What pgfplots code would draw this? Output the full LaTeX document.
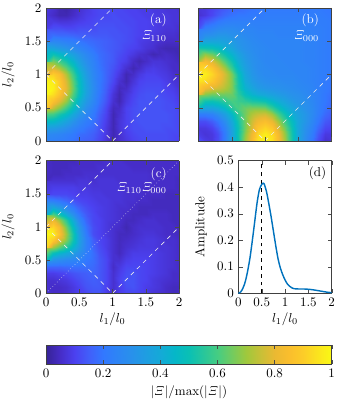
\documentclass[border=0pt]{standalone}
\usepackage{pgfplots}
\pgfplotsset{compat=1.18}
\pgfplotsset{
  colormap={refmap}{
    rgb255=(55,35,150) rgb255=(70,45,200) rgb255=(75,65,240) rgb255=(65,95,250)
    rgb255=(50,120,255) rgb255=(45,133,245) rgb255=(40,145,235) rgb255=(30,158,225)
    rgb255=(20,170,215) rgb255=(5,183,200) rgb255=(10,192,180) rgb255=(40,198,155)
    rgb255=(70,205,130) rgb255=(115,203,95) rgb255=(160,200,60) rgb255=(200,192,55)
    rgb255=(235,185,50) rgb255=(250,190,45) rgb255=(252,205,40) rgb255=(251,228,30)
    rgb255=(250,250,20)},
  colormap name=refmap,
  heat/.style={
    scale only axis, width=102.4pt, height=102.3pt,
    view={0}{90}, xmin=0,xmax=2,ymin=0,ymax=2,
    point meta min=0, point meta max=1,
    xtick={0,0.5,1,1.5,2}, ytick={0,0.5,1,1.5,2},
    tick style={black!70}, major tick length=3.2pt,
    axis on top, axis line style={black!75},
    xlabel style={yshift=2pt}, ylabel style={yshift=1pt},
  },
  grid21/.style={surf, shader=interp, mesh/cols=21, mesh/ordering=x varies},
  table/tbl/.style={row sep=\\, header=false,
    x expr={mod(\coordindex,21)*0.1},
    y expr={floor(\coordindex/21)*0.1},
    z expr={\thisrowno{0}/100}},
  guide/.style={white!92!black, line width=0.5pt, dash pattern=on 3.3pt off 3.3pt},
}
\begin{document}
\begin{tikzpicture}
\path[use as bounding box] (0,0) rectangle (260.7pt,309.9pt);
% (a)
\begin{axis}[heat, at={(35.4pt,201.5pt)}, anchor=south west,
  xticklabels={}, ylabel={$l_2/l_0$}]
\addplot3[grid21] table[tbl]{
24\\23\\22\\21\\19\\17\\15\\14\\11\\7\\3\\6\\8\\10\\11\\12\\12\\12\\12\\11\\10\\
27\\26\\25\\23\\21\\18\\17\\15\\12\\8\\3\\6\\9\\11\\12\\12\\12\\12\\12\\11\\11\\
35\\34\\32\\29\\25\\22\\19\\17\\13\\8\\3\\7\\10\\12\\12\\13\\13\\13\\12\\12\\11\\
47\\46\\42\\37\\31\\26\\22\\19\\14\\9\\3\\7\\10\\12\\13\\13\\13\\13\\13\\12\\11\\
61\\59\\53\\47\\39\\32\\26\\21\\15\\10\\3\\6\\10\\12\\13\\13\\13\\13\\13\\12\\11\\
76\\74\\67\\58\\47\\38\\29\\23\\17\\11\\4\\5\\10\\12\\13\\13\\13\\13\\12\\12\\10\\
89\\86\\79\\69\\55\\43\\33\\26\\19\\13\\6\\3\\8\\11\\13\\13\\13\\13\\12\\11\\9\\
97\\94\\87\\76\\61\\48\\36\\27\\20\\14\\7\\3\\7\\10\\12\\13\\13\\12\\11\\10\\8\\
100\\98\\90\\79\\64\\49\\37\\28\\21\\15\\9\\4\\5\\9\\11\\12\\12\\12\\10\\9\\7\\
99\\97\\89\\77\\62\\48\\36\\27\\21\\16\\11\\6\\3\\7\\10\\11\\11\\11\\9\\7\\6\\
92\\90\\85\\72\\58\\45\\34\\26\\21\\16\\12\\8\\3\\5\\8\\10\\10\\9\\8\\6\\5\\
81\\78\\72\\63\\52\\41\\32\\25\\20\\16\\13\\10\\6\\3\\5\\8\\9\\8\\7\\5\\5\\
67\\65\\59\\52\\44\\36\\29\\24\\19\\16\\14\\11\\9\\5\\3\\5\\7\\7\\6\\5\\4\\
52\\50\\46\\41\\36\\31\\26\\22\\18\\16\\14\\12\\10\\8\\6\\5\\3\\4\\5\\4\\3\\
38\\37\\34\\31\\28\\25\\22\\19\\17\\15\\14\\13\\11\\10\\9\\7\\6\\4\\3\\3\\3\\
27\\26\\25\\23\\22\\20\\18\\17\\16\\15\\14\\13\\12\\11\\9\\8\\7\\6\\5\\5\\5\\
18\\18\\17\\17\\16\\15\\15\\14\\14\\14\\13\\13\\12\\11\\10\\9\\8\\7\\6\\6\\5\\
12\\12\\12\\11\\11\\12\\12\\12\\13\\13\\13\\12\\12\\11\\10\\10\\9\\8\\7\\7\\6\\
9\\8\\7\\7\\8\\9\\10\\11\\12\\12\\12\\12\\11\\11\\10\\10\\9\\8\\8\\7\\7\\
7\\5\\3\\3\\5\\7\\9\\10\\11\\11\\12\\11\\11\\10\\10\\9\\9\\8\\8\\7\\7\\
8\\6\\3\\2\\4\\6\\8\\10\\11\\11\\11\\11\\10\\10\\9\\9\\8\\8\\7\\7\\6\\
};
\addplot3[guide] coordinates {(0,1,1) (1,2,1)};
\addplot3[guide] coordinates {(0,1,1) (1,0,1)};
\addplot3[guide] coordinates {(1,0,1) (2,1,1)};
\node[white,anchor=east] at (axis cs:1.88,1.81,1) {(a)};
\node[white,anchor=east] at (axis cs:1.88,1.58,1) {$\mathit{\Xi}_{110}$};
\end{axis}
% (b)
\begin{axis}[heat, at={(152.6pt,201.5pt)}, anchor=south west,
  xticklabels={}, yticklabels={}]
\addplot3[grid21] table[tbl]{
14\\9\\8\\12\\22\\38\\50\\70\\84\\95\\100\\95\\85\\70\\52\\38\\28\\20\\12\\6\\7\\
9\\7\\8\\12\\22\\37\\51\\68\\82\\93\\97\\93\\83\\68\\51\\38\\29\\22\\14\\8\\8\\
8\\8\\10\\15\\24\\37\\50\\65\\78\\88\\92\\88\\78\\64\\50\\38\\30\\24\\17\\11\\10\\
12\\12\\15\\20\\29\\40\\52\\65\\76\\82\\85\\80\\70\\58\\47\\38\\32\\26\\20\\14\\12\\
22\\22\\24\\29\\36\\46\\56\\65\\72\\75\\76\\70\\60\\50\\42\\36\\32\\27\\22\\17\\14\\
38\\37\\37\\40\\46\\55\\60\\64\\66\\66\\65\\57\\50\\43\\38\\34\\30\\27\\23\\19\\16\\
50\\51\\50\\52\\56\\60\\58\\56\\53\\52\\50\\45\\41\\37\\33\\31\\29\\26\\23\\20\\17\\
70\\68\\65\\65\\65\\64\\56\\48\\43\\40\\38\\36\\34\\32\\30\\29\\27\\25\\23\\20\\18\\
84\\82\\78\\76\\72\\66\\53\\43\\38\\34\\32\\31\\30\\29\\28\\27\\26\\25\\23\\21\\19\\
95\\93\\88\\82\\75\\66\\52\\40\\34\\31\\29\\28\\28\\27\\27\\26\\25\\24\\23\\21\\20\\
100\\97\\92\\85\\76\\65\\50\\38\\32\\29\\27\\27\\26\\26\\26\\25\\25\\24\\23\\22\\21\\
95\\93\\88\\80\\70\\57\\45\\36\\31\\28\\27\\26\\26\\26\\25\\25\\25\\24\\23\\22\\21\\
85\\83\\78\\70\\60\\50\\41\\34\\30\\28\\26\\26\\26\\25\\25\\25\\24\\24\\23\\22\\21\\
70\\68\\64\\58\\50\\43\\37\\32\\29\\27\\26\\26\\25\\25\\25\\25\\24\\24\\23\\22\\21\\
52\\51\\50\\47\\42\\38\\33\\30\\28\\27\\26\\25\\25\\25\\25\\25\\24\\24\\23\\22\\21\\
38\\38\\38\\38\\36\\34\\31\\29\\27\\26\\25\\25\\25\\25\\25\\25\\24\\24\\23\\22\\21\\
28\\29\\30\\32\\32\\30\\29\\27\\26\\25\\25\\25\\24\\24\\24\\24\\24\\24\\23\\22\\21\\
20\\22\\24\\26\\27\\27\\26\\25\\25\\24\\24\\24\\24\\24\\24\\24\\24\\23\\23\\22\\21\\
12\\14\\17\\20\\22\\23\\23\\23\\23\\23\\23\\23\\23\\23\\23\\23\\23\\23\\22\\22\\21\\
6\\8\\11\\14\\17\\19\\20\\20\\21\\21\\22\\22\\22\\22\\22\\22\\22\\22\\22\\21\\20\\
7\\8\\10\\12\\14\\16\\17\\18\\19\\20\\21\\21\\21\\21\\21\\21\\21\\21\\21\\20\\20\\
};
\addplot3[guide] coordinates {(0,1,1) (1,2,1)};
\addplot3[guide] coordinates {(0,1,1) (1,0,1)};
\addplot3[guide] coordinates {(1,0,1) (2,1,1)};
\node[white,anchor=east] at (axis cs:1.88,1.81,1) {(b)};
\node[white,anchor=east] at (axis cs:1.88,1.58,1) {$\mathit{\Xi}_{000}$};
\end{axis}
% (c)
\begin{axis}[heat, at={(35.4pt,84.4pt)}, anchor=south west, height=102pt,
  xlabel={$l_1/l_0$}, ylabel={$l_2/l_0$},
  xticklabels={0,0.5,1,1.5,2}, yticklabels={0,0.5,1,1.5,2}]
\addplot3[grid21] table[tbl]{
7\\5\\5\\6\\8\\10\\11\\13\\13\\9\\5\\9\\11\\11\\10\\9\\7\\6\\5\\4\\4\\
6\\5\\5\\6\\8\\10\\13\\14\\14\\10\\6\\9\\12\\13\\11\\9\\8\\7\\5\\4\\4\\
6\\6\\7\\8\\10\\12\\14\\15\\14\\11\\6\\10\\13\\13\\11\\10\\8\\7\\6\\5\\5\\
9\\9\\10\\11\\13\\14\\15\\16\\14\\11\\6\\9\\12\\13\\11\\10\\9\\8\\7\\5\\5\\
16\\16\\16\\17\\18\\18\\18\\17\\14\\11\\5\\8\\11\\11\\11\\10\\9\\8\\7\\6\\5\\
32\\30\\28\\26\\25\\24\\20\\18\\14\\11\\6\\6\\9\\10\\10\\10\\9\\8\\7\\6\\5\\
49\\49\\44\\40\\34\\29\\22\\18\\13\\10\\6\\4\\7\\9\\9\\9\\9\\8\\7\\6\\5\\
75\\71\\63\\55\\44\\34\\23\\16\\12\\9\\6\\4\\6\\7\\8\\8\\8\\7\\7\\6\\5\\
93\\89\\78\\67\\51\\36\\23\\15\\11\\9\\6\\4\\5\\6\\7\\8\\8\\7\\6\\6\\5\\
100\\98\\87\\70\\52\\35\\21\\12\\10\\8\\6\\4\\4\\5\\6\\7\\7\\6\\5\\5\\4\\
96\\92\\83\\65\\47\\32\\19\\12\\10\\8\\6\\5\\3\\5\\6\\6\\6\\6\\5\\5\\4\\
85\\81\\70\\56\\40\\26\\16\\11\\10\\8\\7\\6\\4\\4\\5\\6\\6\\5\\5\\4\\4\\
63\\60\\51\\40\\29\\20\\14\\11\\9\\8\\7\\6\\5\\4\\4\\4\\5\\5\\5\\4\\4\\
40\\38\\33\\26\\20\\15\\12\\10\\9\\8\\7\\6\\6\\5\\4\\4\\4\\4\\4\\4\\4\\
22\\21\\19\\16\\13\\11\\10\\9\\8\\8\\7\\7\\6\\6\\5\\5\\4\\4\\4\\4\\4\\
12\\11\\11\\11\\10\\9\\9\\8\\8\\7\\7\\7\\6\\6\\6\\5\\5\\5\\4\\4\\4\\
9\\9\\9\\9\\9\\8\\8\\7\\7\\7\\7\\7\\6\\6\\6\\5\\5\\5\\5\\5\\4\\
6\\6\\6\\6\\6\\7\\7\\6\\7\\7\\7\\6\\6\\6\\6\\6\\5\\5\\5\\5\\4\\
4\\4\\4\\5\\5\\5\\6\\6\\6\\6\\6\\6\\6\\6\\6\\6\\5\\5\\5\\5\\5\\
5\\4\\4\\4\\5\\5\\5\\5\\6\\6\\6\\6\\6\\5\\5\\5\\5\\5\\5\\5\\5\\
5\\4\\4\\4\\4\\5\\5\\5\\5\\6\\6\\6\\5\\5\\5\\5\\5\\5\\5\\5\\5\\
};
\addplot3[guide] coordinates {(0,1,1) (1,2,1)};
\addplot3[guide] coordinates {(0,1,1) (1,0,1)};
\addplot3[guide] coordinates {(1,0,1) (2,1,1)};
\addplot3[white!92!black, line width=0.4pt, dash pattern=on 0.4pt off 2pt] coordinates {(0,0,1) (2,2,1)};
\node[white,anchor=east] at (axis cs:1.88,1.8,1) {(c)};
\node[white,anchor=east] at (axis cs:1.88,1.59,1) {$\mathit{\Xi}_{110}\mathit{\Xi}_{000}$};
\end{axis}
% (d)
\begin{axis}[at={(183.3pt,84.4pt)}, anchor=south west, scale only axis,
  width=71.8pt, height=102pt,
  xmin=0,xmax=2,ymin=0,ymax=0.5,
  xtick={0,0.5,1,1.5,2}, xticklabels={0,0.5,1,1.5,2},
  ytick={0,0.1,0.2,0.3,0.4,0.5}, yticklabels={0,0.1,0.2,0.3,0.4,0.5},
  tick style={black!70}, major tick length=3.2pt, axis line style={black!75},
  xlabel={$l_1/l_0$}, ylabel={Amplitude},
  xlabel style={yshift=2pt}, ylabel style={yshift=1pt}]
\addplot[black, line width=0.4pt, dash pattern=on 3pt off 3pt] coordinates {(0.5,0) (0.5,0.5)};
\addplot[color={rgb,255:red,0;green,114;blue,189}, line width=1.1pt, smooth] coordinates {
(0,0) (0.05,0.005) (0.1,0.02) (0.15,0.045) (0.2,0.085) (0.25,0.135) (0.3,0.2)
(0.35,0.27) (0.4,0.34) (0.45,0.39) (0.5,0.41) (0.53,0.415) (0.55,0.413) (0.6,0.385)
(0.65,0.34) (0.7,0.29) (0.75,0.235) (0.8,0.18) (0.85,0.13) (0.9,0.095) (0.95,0.07)
(1,0.05) (1.05,0.035) (1.1,0.026) (1.15,0.02) (1.2,0.017) (1.3,0.016) (1.4,0.016)
(1.5,0.015) (1.6,0.013) (1.7,0.01) (1.8,0.007) (1.9,0.004) (2,0.002)};
\node[anchor=east] at (axis cs:1.98,0.452) {(d)};
\end{axis}
% colour bar
\begin{axis}[at={(35.4pt,30pt)}, anchor=south west, scale only axis,
  width=219.7pt, height=14.6pt, view={0}{90}, axis on top,
  xmin=0,xmax=1,ymin=0,ymax=1, ytick=\empty,
  point meta min=0, point meta max=1,
  xtick={0,0.2,0.4,0.6,0.8,1}, xticklabels={0,0.2,0.4,0.6,0.8,1},
  tick style={black!70}, major tick length=3.2pt, axis line style={black!75},
  xlabel={$|\mathit{\Xi}|/\mathrm{max}(|\mathit{\Xi}|)$}, xlabel style={yshift=1pt}]
\addplot3[surf, shader=interp, mesh/cols=2] coordinates {(0,0,0) (1,0,1)

(0,1,0) (1,1,1)};
\end{axis}
\end{tikzpicture}
\end{document}
